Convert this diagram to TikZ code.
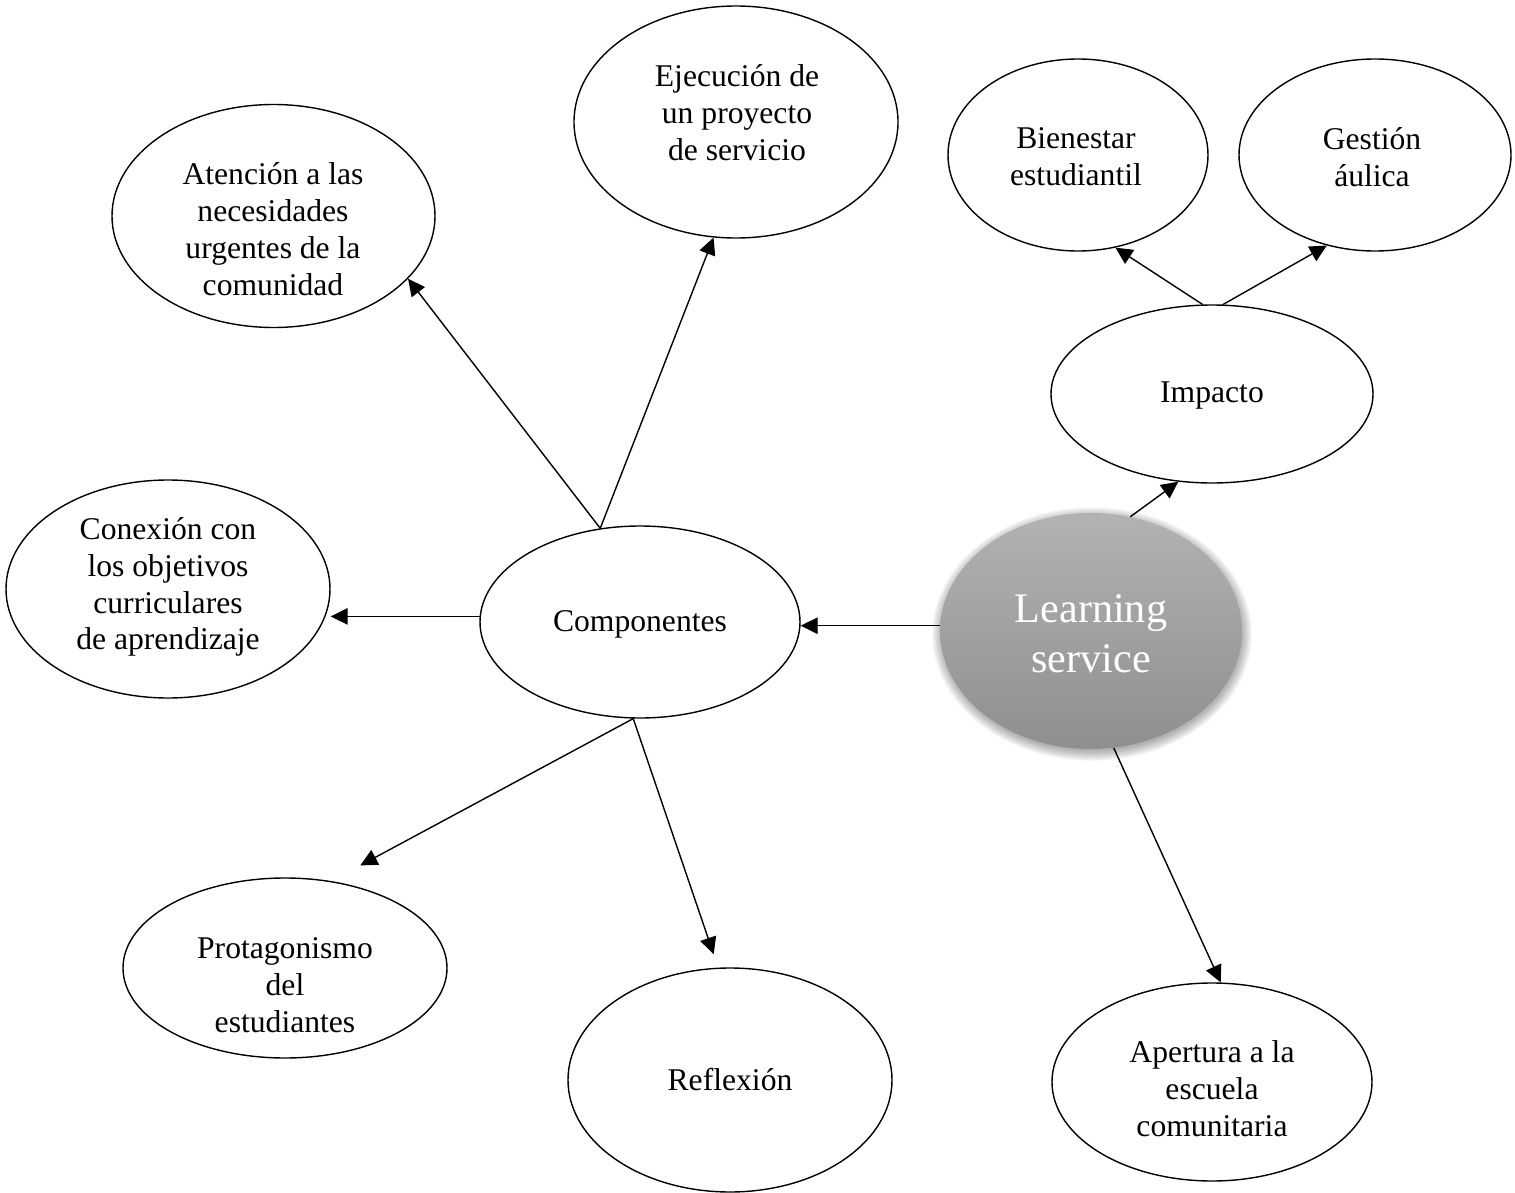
\documentclass[tikz,border=0pt]{standalone}
\usepackage{fontspec}
\setmainfont{Liberation Serif}
\usetikzlibrary{shapes.geometric,arrows.meta}
\begin{document}
\begin{tikzpicture}[x=0.02cm,y=-0.02cm,
  bub/.style 2 args={draw, ellipse, line width=0.8pt, inner sep=0pt,
    minimum width=#1*0.02cm, minimum height=#2*0.02cm},
  txt/.style={align=center, inner sep=0pt, font=\fontsize{18}{21}\selectfont},
  bigtxt/.style={align=center, inner sep=0pt, text=white, font=\fontsize{24}{28.5}\selectfont},
  arr/.style={-{Triangle[length=0.34cm,width=0.33cm]}, line width=0.8pt}]
\useasboundingbox (0,0) rectangle (1515,1193);

% ellipses
\node[bub={324}{232}] (ejec) at (736,122) {};
\node[bub={323}{223}] (atn) at (273.5,216) {};
\node[bub={260}{192}] (bien) at (1078,155) {};
\node[bub={272}{192}] (gest) at (1375,155) {};
\node[bub={322}{178}] (imp) at (1212,394) {};
\node[bub={324}{218}] (con) at (168,589) {};
\node[bub={320}{192}] (comp) at (640,622) {};
\node[bub={324}{180}] (prot) at (285,968) {};
\node[bub={324}{224}] (refl) at (730,1080) {};
\node[bub={320}{198}] (aper) at (1212,1082) {};

% central soft shadow
\foreach \i in {0,...,6}
  \fill[black, opacity=0.05] (1092,634) ellipse ({150+1.6*\i} and {117+1.6*\i});
\node[ellipse, inner sep=0pt, minimum width=302*0.02cm, minimum height=236*0.02cm,
      top color=black!30, bottom color=black!44] (ls) at (1091,631) {};

% texts
\node[txt] (ejecT) at (737,113) {Ejecución de\\un proyecto\\de servicio};
\node[txt] (atnT) at (273,229) {Atención a las\\necesidades\\urgentes de la\\comunidad};
\node[txt] (bienT) at (1076,157) {Bienestar\\estudiantil};
\node[txt] (gestT) at (1372,157) {Gestión\\áulica};
\node[txt] (impT) at (1212,396) {Impacto};
\node[txt] (conT) at (168,587) {Conexión con\\los objetivos\\curriculares\\de aprendizaje};
\node[txt] (compT) at (640,624) {Componentes};
\node[txt] (protT) at (285,985) {Protagonismo\\del\\estudiantes};
\node[txt] (reflT) at (730,1080) {Reflexión};
\node[txt] (aperT) at (1212,1089) {Apertura a la\\escuela\\comunitaria};
\node[bigtxt] (lsT) at (1091,634) {Learning\\service};

% connectors
\draw[arr] (comp.113.4) -- (atn.335);
\draw[arr] (comp.113.4) -- (ejec.259.7);
\draw[arr] (comp.178) -- (comp.178 -| con.east);
\draw[arr] (ls.178) -- (ls.178 -| comp.east);
\draw[arr, shorten >=0.66cm] (comp.266) -- (prot.62);
\draw[arr, shorten >=0.28cm] (comp.266) -- (refl.96.4);
\draw[arr] (ls.71.7) -- (imp.249.3);
\draw[arr] (imp.96.4) -- (bien.292);
\draw[arr] (imp.83.6) -- (gest.242.5);
\draw[arr] (ls.281.2) -- (aper.85.3);
\end{tikzpicture}
\end{document}
